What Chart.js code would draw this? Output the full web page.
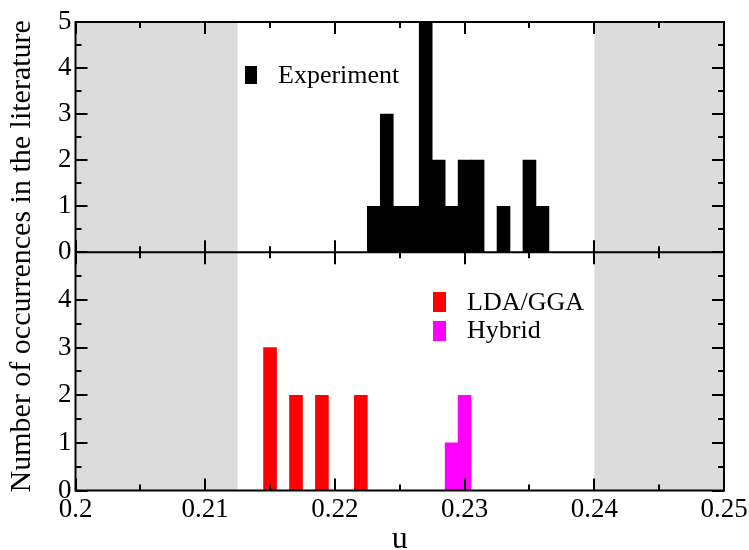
<!DOCTYPE html>
<html>
<head>
<meta charset="utf-8">
<script src="https://cdn.jsdelivr.net/npm/chart.js@4.4.0/dist/chart.umd.min.js"></script>
<style>
  html, body { margin: 0; padding: 0; background: #fff; }
  #wrap { width: 749px; height: 550px; }
</style>
</head>
<body>
<div id="wrap"><canvas id="hist" width="749" height="550"></canvas></div>
<script>
// measured u values (bin centres, bin width 0.001) and how often each was reported
var expU = [0.223, 0.224, 0.225, 0.226, 0.227, 0.228, 0.229, 0.230, 0.231, 0.233, 0.235, 0.236];
var expCount = [1, 3, 1, 1, 5, 2, 1, 2, 2, 1, 2, 1];

var ldaU = [0.215, 0.217, 0.219, 0.222];
var ldaCount = [3, 2, 2, 2];

var hybridU = [0.229, 0.230];
var hybridCount = [1, 2];

// u ranges shaded grey in both panels
var shadeRanges = [[0.2, 0.2125], [0.24, 0.25]];

var serif = "'Liberation Serif', 'Times New Roman', serif";

function toPoints(xs, ys) {
  return xs.map(function (x, i) { return { x: x, y: ys[i] }; });
}

function barSet(label, xs, ys, color, axis) {
  return {
    label: label,
    data: toPoints(xs, ys),
    yAxisID: axis,
    backgroundColor: color,
    borderWidth: 0,
    barPercentage: 1,
    categoryPercentage: 1,
    grouped: false,
  };
}

var shading = {
  id: "shading",
  beforeDatasetsDraw: function (chart) {
    var ctx = chart.ctx, area = chart.chartArea, xs = chart.scales.x;
    ctx.save();
    ctx.fillStyle = "#dcdcdc";
    shadeRanges.forEach(function (r) {
      var a = xs.getPixelForValue(r[0]), b = xs.getPixelForValue(r[1]);
      ctx.fillRect(a, area.top, b - a, area.bottom - area.top);
    });
    ctx.restore();
  },
};

// frame with inward ticks, like the usual xmgrace look
var frame = {
  id: "frame",
  afterDatasetsDraw: function (chart) {
    var ctx = chart.ctx, area = chart.chartArea;
    var xs = chart.scales.x, yt = chart.scales.yTop, yb = chart.scales.yBot;
    var mid = yt.bottom;
    ctx.save();
    ctx.strokeStyle = "#000";
    ctx.lineWidth = 2;
    ctx.lineCap = "butt";
    ctx.beginPath();
    ctx.rect(area.left, area.top, area.right - area.left, area.bottom - area.top);
    ctx.moveTo(area.left, mid);
    ctx.lineTo(area.right, mid);

    for (var k = 0; k <= 10; k++) {
      var v = 0.2 + k * 0.005;
      var px = Math.round(xs.getPixelForValue(v));
      var len = k % 2 === 0 ? 12 : 6;
      ctx.moveTo(px, area.bottom); ctx.lineTo(px, area.bottom - len);
      ctx.moveTo(px, area.top); ctx.lineTo(px, area.top + len);
      ctx.moveTo(px, mid - len); ctx.lineTo(px, mid + len);
    }

    [yt, yb].forEach(function (ys) {
      for (var j = 0; j <= 10; j++) {
        var py = Math.round(ys.getPixelForValue(j * 0.5));
        var l = j % 2 === 0 ? 12 : 6;
        ctx.moveTo(area.left, py); ctx.lineTo(area.left + l, py);
        ctx.moveTo(area.right, py); ctx.lineTo(area.right - l, py);
      }
    });
    ctx.stroke();
    ctx.restore();
  },
};

// small legends drawn inside each panel
var boxLegend = {
  id: "boxLegend",
  afterDraw: function (chart) {
    var ctx = chart.ctx, ds = chart.data.datasets;
    var entries = [
      { i: 0, box: [245, 66, 12, 18], tx: 278, ty: 83 },
      { i: 1, box: [433, 292, 13, 20], tx: 467, ty: 310 },
      { i: 2, box: [433, 321, 13, 20], tx: 467, ty: 338 },
    ];
    ctx.save();
    ctx.font = "26px " + serif;
    ctx.textBaseline = "alphabetic";
    entries.forEach(function (e) {
      var d = ds[e.i];
      ctx.fillStyle = d.backgroundColor;
      ctx.fillRect(e.box[0], e.box[1], e.box[2], e.box[3]);
      ctx.fillStyle = "#000";
      ctx.fillText(d.label, e.tx, e.ty);
    });
    ctx.restore();
  },
};

var tickFont = { family: serif, size: 27, lineHeight: 1 };

function yPanel(hideTop, weight) {
  return {
    type: "linear",
    position: "left",
    stack: "panels",
    stackWeight: weight,
    min: 0,
    max: 5,
    grid: { display: false, drawTicks: false },
    border: { display: false },
    ticks: {
      stepSize: 1,
      autoSkip: false,
      padding: 4,
      color: "#000",
      font: tickFont,
      callback: function (v) { return hideTop && v === 5 ? "" : v; },
    },
  };
}

new Chart(document.getElementById("hist").getContext("2d"), {
  type: "bar",
  data: {
    datasets: [
      barSet("Experiment", expU, expCount, "#000000", "yTop"),
      barSet("LDA/GGA", ldaU, ldaCount, "#ff0000", "yBot"),
      barSet("Hybrid", hybridU, hybridCount, "#ff00ff", "yBot"),
    ],
  },
  options: {
    responsive: false,
    animation: false,
    devicePixelRatio: 1,
    layout: { padding: { top: 22, right: 25, left: 0, bottom: 0 } },
    plugins: {
      legend: { display: false },
      tooltip: { enabled: false },
    },
    scales: {
      x: {
        type: "linear",
        min: 0.2,
        max: 0.25,
        offset: false,
        grid: { display: false, drawTicks: false },
        border: { display: false },
        // let the last label run into the right margin
        afterFit: function (scale) { scale.paddingRight = 0; },
        ticks: {
          stepSize: 0.01,
          padding: 6,
          color: "#000",
          font: tickFont,
          maxRotation: 0,
          callback: function (v) { return String(+v.toFixed(3)); },
        },
        title: {
          display: true,
          text: "u",
          color: "#000",
          font: { family: serif, size: 32, lineHeight: 0.2 },
          padding: { top: 7, bottom: 7 },
        },
      },
      yBot: yPanel(true, 238),
      yTop: yPanel(false, 230),
      yTitle: {
        type: "linear",
        position: "left",
        weight: 10,
        grid: { display: false, drawTicks: false },
        border: { display: false },
        ticks: { display: false },
        title: {
          display: true,
          text: "Number of occurrences in the literature",
          color: "#000",
          font: { family: serif, size: 30 },
          padding: { top: 4, bottom: 14 },
        },
      },
    },
  },
  plugins: [shading, frame, boxLegend],
});
</script>
</body>
</html>
